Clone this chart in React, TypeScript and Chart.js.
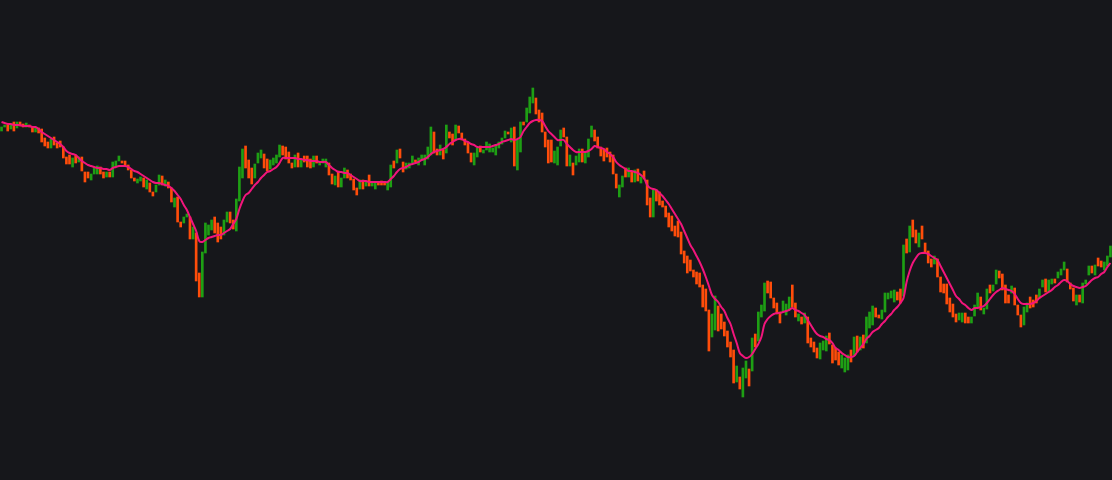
import { useEffect, useRef } from "react";
import { Chart, registerables } from "chart.js";

Chart.register(...registerables);

// Price values in chart units (value axis is reversed: smaller = higher on screen)
const highs = [
  127,125,125,124,122,122,122,124,123,125,
  127,128,128,129,138,142,139,137,143,141,
  147,157,155,158,155,157,157,172,172,174,
  167,166,167,172,172,172,162,161,156,161,
  161,165,170,178,179,177,178,180,183,192,
  185,175,176,180,182,188,198,197,222,217,
  214,217,227,233,273,252,223,225,220,217,
  223,227,220,212,212,220,199,167,149,146,
  160,168,164,153,150,154,159,160,158,155,
  145,
  146,147,152,163,155,153,159,156,156,159,
  156,156,162,159,159,163,174,176,171,178,
  168,170,174,179,188,180,180,182,175,182,
  182,182,181,182,182,165,161,150,149,162,
  163,163,156,160,158,155,155,147,127,132,
  149,145,150,125,132,134,125,126,133,139,
  143,153,153,148,146,150,142,144,148,145,
  142,138,131,132,128,127,140,122,122,108,
  97,88,98,110,113,132,140,140,151,147,
  130,128,137,155,163,156,149,149,153,139,
  126,130,137,147,149,148,152,155,174,185,
  176,168,168,172,170,169,177,171,180,198,
  190,190,192,201,206,213,216,226,221,232,
  251,256,260,270,272,273,285,289,310,314,
  296,306,314,322,331,342,350,366,377,368,
  361,369,338,334,312,305,283,281,282,298,
  303,312,301,304,297,285,303,314,317,313,
  317,338,342,348,343,341,336,333,345,
  348,352,355,358,355,350,337,336,337,335,317,312,
  306,308,315,310,293,293,291,290,292,289,
  245,239,226,220,230,233,226,243,251,259,
  256,259,277,284,284,298,304,314,313,313,
  313,317,317,305,293,297,308,289,285,285,
  270,271,274,285,295,286,288,305,315,307,
  303,297,300,295,289,280,279,280,279,279,
  272,269,262,269,283,288,295,295,283,280,
  266,266,265,258,261,262,256,246,
];

const lows = [
  131,127,131,129,131,128,126,127,127,127,
  132,132,133,142,146,148,148,145,148,147,
  158,164,164,167,163,162,171,182,178,180,
  174,174,174,178,177,177,177,167,161,163,
  166,170,178,181,183,181,187,189,192,196,
  192,185,185,186,188,202,207,222,227,223,
  217,239,239,281,297,297,253,235,230,233,
  242,239,235,222,223,229,231,201,178,168,
  178,184,178,163,158,168,171,169,165,163,
  157,
  155,159,163,168,167,167,167,162,167,168,
  167,163,165,163,167,175,184,185,187,187,
  178,178,180,190,195,189,189,186,186,186,
  189,185,185,185,190,187,168,163,158,172,
  169,168,163,162,165,160,165,159,155,153,
  155,155,159,153,138,145,140,133,140,145,
  153,162,165,157,152,153,150,152,152,155,
  148,144,138,134,142,166,170,152,125,122,
  113,103,114,122,132,147,163,162,163,165,
  146,137,166,166,175,165,162,162,163,157,
  137,141,148,156,161,157,162,174,188,197,
  187,177,177,182,182,181,183,179,205,217,
  217,201,205,207,217,227,231,236,237,254,
  263,273,271,277,284,287,307,311,351,337,
  330,331,329,336,347,357,383,382,389,397,
  378,386,371,347,341,317,311,293,298,308,
  314,323,312,315,309,307,317,321,324,323,
  343,347,352,358,359,350,351,344,363,
  360,365,368,372,370,362,355,352,350,348,343,328,
  325,317,318,319,312,299,298,302,300,303,
  296,253,252,237,243,247,239,253,263,267,
  264,277,292,293,304,312,317,322,320,322,
  323,323,323,316,307,310,314,309,293,291,
  284,278,290,303,303,293,305,315,327,325,
  312,308,307,303,298,287,292,292,284,283,
  278,275,270,282,289,301,305,302,303,284,
  275,273,275,266,267,270,266,257,
];

// G = up bar, O = down bar
const direction = (
  "GGOGOGOOGO" + "OGOOOOGOOO" + "OOOGOGOOOG" + "GGOOGOGGGO" + "OOOOGGOGOO" +
  "GGOGOOGOOG" + "GOGOOGGGGO" + "OOGGOOGGGO" + "OOGGGOOGGG" + "G" +
  "OOOOGOGOOO" + "GOGGGOOGOG" + "GOOOOGOGOG" + "GOOOGGOGOO" + "GGGOGGGGGO" +
  "OGOGOOGOOO" + "OOGGOGGGGG" + "GGGOGOGGOG" + "GGOOOOOOGG" +
  "GOOGOGGOGG" + "GOOOOOOOOG" + "GOGOGOGOOO" + "GOOOOOOOOO" + "OOOOOOOOOG" +
  "GOOOOOOGOG" + "GOGOGGGOOO" + "OOGGGOOGOG" + "OOOOGGGOO" +
  "OOGGGOGOGOGG" +
  "GOOGGGGGOO" + "GOGOOGOOOO" + "GOOOOOOOGG" + "OOGGGOGGOG" + "GOOOOGOOOG" +
  "GOOOGGOGGO" + "GGGOOOGOGG" + "GOGOOGGG"
).split("");

const movingAverage = [
  122,123,124,124,125,125,125,126,126,126,
  127,127,129,132,134,136,138,140,142,144,
  147,151,153,154,155,158,161,163,165,166,
  167,168,168,169,169,170,168,167,166,166,
  166,167,169,171,172,174,176,178,180,182,
  183,183,184,185,186,188,191,195,199,205,
  210,217,224,231,241,242,240,238,237,236,
  235,235,233,231,229,224,219,209,201,195,
  193,189,185,182,178,175,172,171,169,167,
  163,158,158,158,158,158,159,159,160,160,
  161,161,161,162,162,162,165,168,170,172,
  172,173,173,175,177,179,181,181,181,182,
  182,182,182,182,182,182,179,176,172,169,
  168,167,165,164,163,162,160,159,157,154,
  152,151,150,149,147,144,142,140,139,139,
  141,142,144,145,147,147,147,147,147,146,
  145,144,142,141,140,139,140,139,137,131,
  127,123,121,120,120,121,126,131,134,137,
  140,140,140,144,147,150,152,152,152,152,
  151,149,146,147,148,149,152,154,157,162,
  165,167,169,171,171,172,173,175,178,185,
  188,189,190,193,196,200,204,209,214,219,
  224,231,238,245,250,256,262,269,277,286,
  295,299,302,307,311,318,324,334,343,353,
  356,358,357,354,349,344,337,324,319,316,
  314,313,313,312,311,310,308,310,311,313,
  315,320,325,330,334,336,337,339,340,343,
  348,350,353,355,357,357,356,352,348,344,
  339,336,332,330,328,324,321,317,314,310,
  307,303,298,282,271,263,258,254,253,253,
  254,256,258,260,266,272,278,284,290,296,
  299,303,305,308,310,308,308,307,306,303,
  299,295,292,290,288,289,290,291,294,299,
  303,304,304,304,303,301,298,296,294,292,
  290,287,285,282,280,281,284,286,287,288,
  287,286,283,280,278,277,274,272,267,263,
];

const labels = highs.map((_, i) => String(i + 1));

const BG = "#16171b";
const UP = "#1e9f14";
const DOWN = "#ff4d0a";
const MA = "#f2157c";

export default function App() {
  const ref = useRef<HTMLCanvasElement | null>(null);

  useEffect(() => {
    document.body.style.margin = "0";
    document.body.style.background = BG;
    const canvas = ref.current;
    if (!canvas) return;
    const chart = new Chart(canvas, {
      type: "bar",
      data: {
        labels,
        datasets: [
          {
            type: "line",
            data: movingAverage,
            borderColor: MA,
            borderWidth: 2,
            pointRadius: 0,
            tension: 0.35,
            order: 0,
          } as any,
          {
            type: "bar",
            data: highs.map((h, i) => [lows[i], h]),
            backgroundColor: direction.map((d) => (d === "G" ? UP : DOWN)),
            barThickness: 2,
            borderWidth: 0,
            borderSkipped: false,
            order: 1,
          } as any,
        ],
      },
      options: {
        animation: false,
        responsive: false,
        maintainAspectRatio: false,
        layout: { padding: 0 },
        plugins: { legend: { display: false }, tooltip: { enabled: false } },
        scales: {
          x: { display: false, offset: true, grid: { display: false } },
          y: { display: false, reverse: true, min: 0, max: 480, grid: { display: false } },
        },
      },
    });
    return () => chart.destroy();
  }, []);

  return (
    <div style={{ position: "fixed", left: 0, top: 0, width: 1112, height: 480, background: BG }}>
      <canvas ref={ref} width={1112} height={480} style={{ display: "block" }} />
    </div>
  );
}
